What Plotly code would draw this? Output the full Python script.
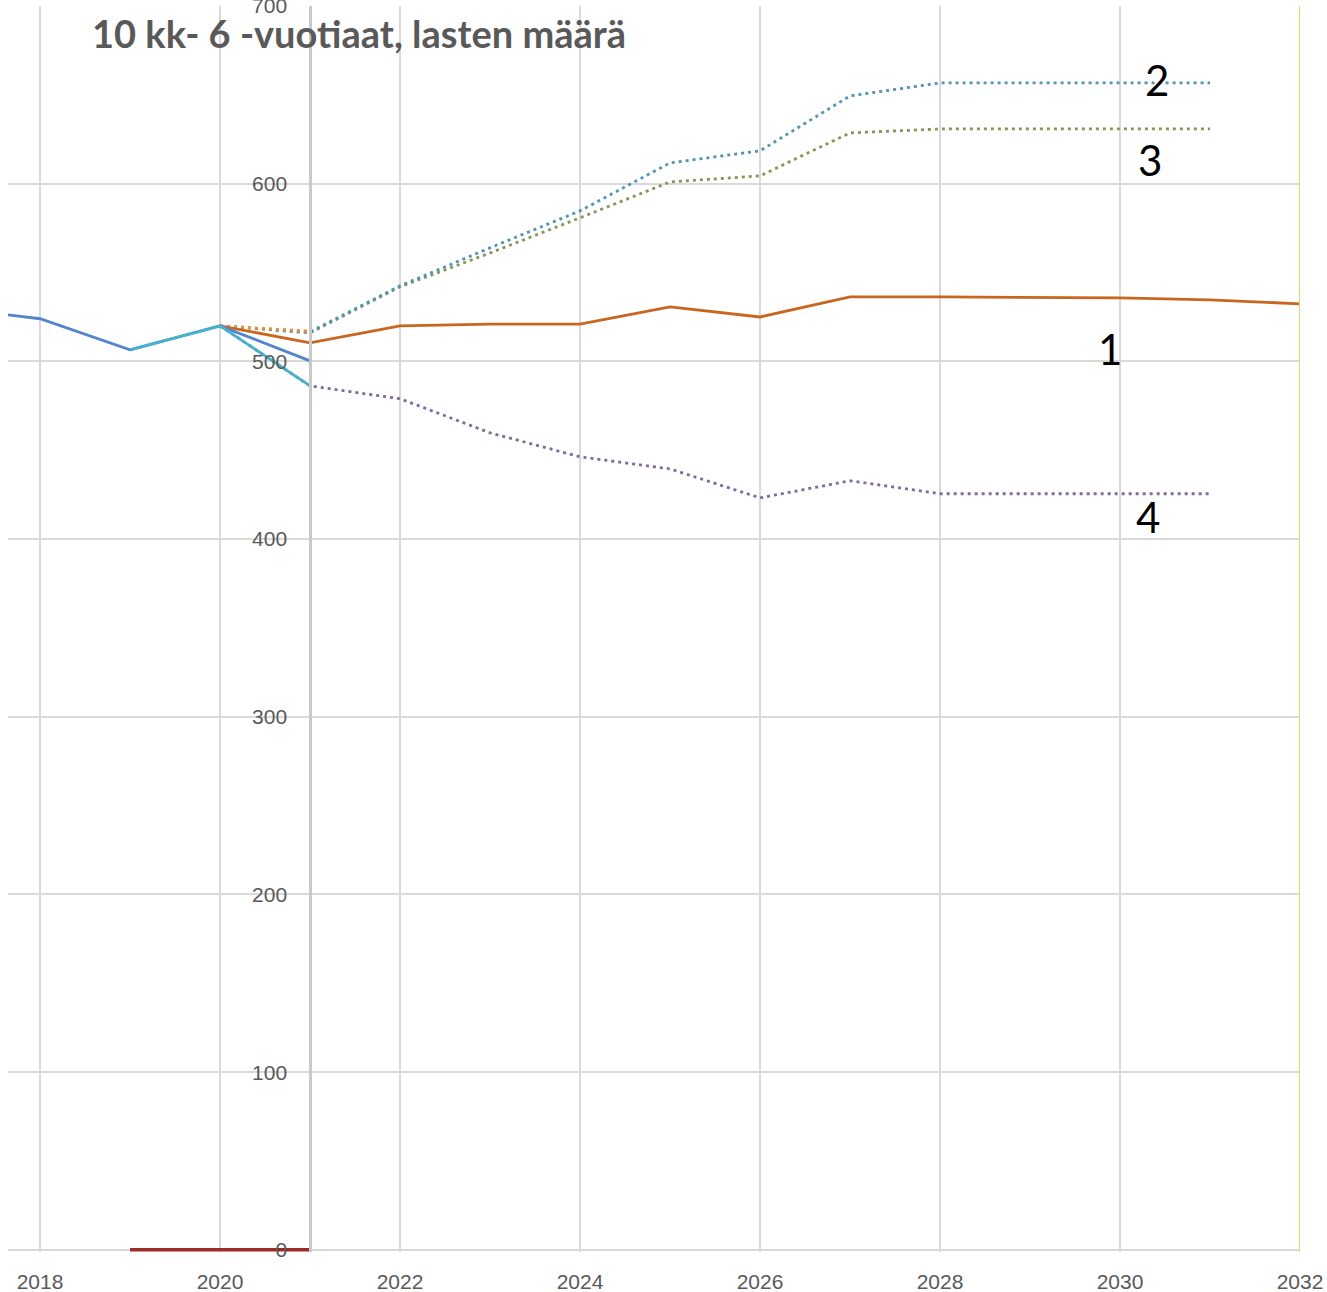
import plotly.graph_objects as go

# ---- data ----
hist_years = [2017, 2018, 2019, 2020, 2021]
hist_vals = [530, 524, 506.5, 520, 500.3]

cyan_years = [2019, 2020, 2021]
cyan_vals = [506.5, 520, 486.2]

orange_years = [2020, 2021, 2022, 2023, 2024, 2025, 2026, 2027, 2028, 2029, 2030, 2031, 2032]
orange_vals = [520, 510.4, 520, 521, 521, 530.7, 525, 536.3, 536.3, 536.2, 535.7, 534.6, 532.4]

orange_dot_years = [2020, 2021]
orange_dot_vals = [520, 517]

proj_years = [2020, 2021, 2022, 2023, 2024, 2025, 2026, 2027, 2028, 2029, 2030, 2031]
proj2_vals = [520, 516.6, 542.5, 563.9, 584.7, 611.7, 618.5, 649.4, 656.7, 656.7, 656.7, 656.7]
proj3_vals = [520, 516, 542, 561, 580.8, 601, 604.4, 628.6, 630.8, 630.8, 630.8, 630.8]
proj4_vals = [520, 486.2, 479, 459.8, 446.3, 439.5, 423.2, 432.8, 425.5, 425.5, 425.5, 425.5]

zero_years = [2019, 2020, 2021]
zero_vals = [0, 0, 0]

x_ticks = [2018, 2020, 2022, 2024, 2026, 2028, 2030, 2032]
y_ticks = [0, 100, 200, 300, 400, 500, 600, 700]

labels = ["1", "2", "3", "4"]
label_x = [2029.89, 2030.41, 2030.33, 2030.31]
label_y = [507, 658.4, 613.4, 412.5]

title = "10 kk- 6 -vuotiaat, lasten määrä"

# ---- figure ----
X0, X1 = 2017.644, 2032.0
fig = go.Figure()

dotdash = "3px,4px"
fig.add_trace(go.Scatter(x=zero_years, y=zero_vals, mode="lines",
                         line=dict(color="#9E2B2B", width=3.5)))
fig.add_trace(go.Scatter(x=proj_years, y=proj4_vals, mode="lines",
                         line=dict(color="#7D6C9C", width=2.8, dash=dotdash)))
fig.add_trace(go.Scatter(x=proj_years, y=proj3_vals, mode="lines",
                         line=dict(color="#869658", width=2.8, dash=dotdash)))
fig.add_trace(go.Scatter(x=proj_years, y=proj2_vals, mode="lines",
                         line=dict(color="#5293B8", width=2.8, dash=dotdash)))
fig.add_trace(go.Scatter(x=orange_dot_years, y=orange_dot_vals, mode="lines",
                         line=dict(color="#E8913F", width=2.8, dash=dotdash)))
fig.add_trace(go.Scatter(x=orange_years, y=orange_vals, mode="lines",
                         line=dict(color="#C8661F", width=2.8)))
fig.add_trace(go.Scatter(x=hist_years, y=hist_vals, mode="lines",
                         line=dict(color="#5384CE", width=2.8)))
fig.add_trace(go.Scatter(x=cyan_years, y=cyan_vals, mode="lines",
                         line=dict(color="#47B1CC", width=2.8)))

# right vertical boundary line
fig.add_shape(type="line", xref="x", yref="paper", x0=X1, x1=X1, y0=0, y1=1,
              line=dict(color="#D6DA72", width=2))

for t, lx, ly in zip(labels, label_x, label_y):
    fig.add_annotation(x=lx, y=ly, text=t, showarrow=False,
                       font=dict(family="Lato", size=42, color="#000000"))

L, R, T, B = 8, 27, 6, 40
W, H = 1327, 1292
PLOT_W, PLOT_H = W - L - R, H - T - B
fig.add_annotation(xref="paper", yref="paper", x=(90 - L) / PLOT_W, y=1.0 - (33 - T) / PLOT_H,
                   xanchor="left", yanchor="middle", text="<b>" + title + "</b>",
                   showarrow=False, font=dict(family="Lato", size=38, color="#595959"))

ypos = (2021 - X0) / (X1 - X0)
fig.update_layout(
    width=W, height=H,
    margin=dict(l=L, r=R, t=T, b=B),
    paper_bgcolor="white", plot_bgcolor="white",
    showlegend=False,
    xaxis=dict(range=[X0, X1], tickvals=x_ticks, ticktext=[str(v) for v in x_ticks],
               showgrid=True, gridcolor="#D9D9D9", gridwidth=1.5,
               zeroline=False, showline=False, ticks="", automargin=False,
               ticklabelstandoff=15, ticklabeloverflow="allow",
               tickfont=dict(family="Liberation Sans", size=21, color="#595959")),
    yaxis=dict(range=[-1.2, 700], tickvals=y_ticks, ticktext=[str(v) for v in y_ticks],
               anchor="free", position=ypos, automargin=False,
               showgrid=True, gridcolor="#D9D9D9", gridwidth=1.5,
               zeroline=False, showline=True, linecolor="#C9C9C9", linewidth=2.5,
               ticks="", ticklabelstandoff=18, ticklabeloverflow="allow",
               tickfont=dict(family="Liberation Sans", size=21, color="#595959")),
)

fig.write_html("out.html", config={"displayModeBar": False},
               post_script="document.body.style.margin='0px';")
